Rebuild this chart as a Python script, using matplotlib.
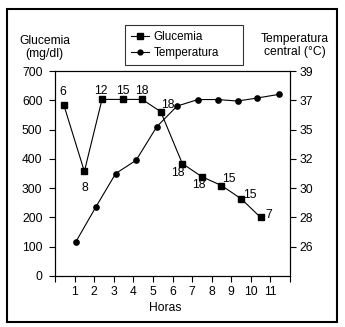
import numpy as np
import matplotlib
matplotlib.use("Agg")
import matplotlib.pyplot as plt
from matplotlib.lines import Line2D
from matplotlib.patches import Rectangle

plt.rcParams['font.family'] = ['Liberation Sans', 'DejaVu Sans']
FS = 8.7
plt.rcParams['font.size'] = FS

# ---- data ----
glu_x = [0.45, 1.5, 2.4, 3.45, 4.45, 5.4, 6.5, 7.5, 8.5, 9.5, 10.5]
glu_y = [584, 357, 603, 603, 603, 561, 384, 339, 309, 264, 200]
glu_labels = ["6", "8", "12", "15", "18", "18", "18", "18", "15", "15", "7"]

temp_x = [1.05, 2.08, 3.1, 4.14, 5.2, 6.23, 7.29, 8.3, 9.33, 10.3, 11.42]
temp_y = [26.3, 28.7, 31.0, 31.9, 35.2, 36.6, 37.05, 37.05, 36.95, 37.15, 37.4]

x_ticks = list(range(0, 13))
x_ticklabels = [""] + [str(i) for i in range(1, 12)] + [""]
left_ticks = [0, 100, 200, 300, 400, 500, 600, 700]
right_ticks = [26, 28, 30, 32, 35, 37, 39]
# right axis is non-linear: each temperature tick sits at the matching glucose tick
right_knots_t = [24, 26, 28, 30, 32, 35, 37, 39]
right_knots_p = [0, 100, 200, 300, 400, 500, 600, 700]

# label offsets in points (dx, dy)
lab_off = [(-1, 9), (0, -12), (-1, 6), (0, 6), (0, 6), (5, 5), (-3, -7), (-2, -6), (5, 5), (6, 3), (6, 2)]

W, H = 345, 327
fig = plt.figure(figsize=(W / 100, H / 100), dpi=100)
ax = fig.add_axes([55 / W, 1 - 276 / H, 235 / W, 205 / H])

ax.plot(glu_x, glu_y, color='black', lw=0.8, marker='s', ms=5, mfc='black', mec='black',
        label='Glucemia', zorder=3)
ax.set_xlim(0, 12)
ax.set_ylim(0, 700)
ax.set_xticks(x_ticks)
ax.set_xticklabels(x_ticklabels)
ax.set_yticks(left_ticks)
ax.tick_params(axis='y', direction='out', length=4, width=0.8, pad=5, labelsize=FS)
ax.tick_params(axis='x', direction='out', length=4, width=0.8, pad=3, labelsize=FS)
ax.set_xlabel('Horas', fontsize=FS, labelpad=1)
ax.xaxis.set_label_coords(110 / 235, -0.125)
for s in ax.spines.values():
    s.set_linewidth(0.8)

for x, y, t, (dx, dy) in zip(glu_x, glu_y, glu_labels, lab_off):
    ax.annotate(t, (x, y), xytext=(dx, dy), textcoords='offset points',
                ha='center', va='center', fontsize=FS)

ax2 = ax.twinx()
fwd = lambda t: np.interp(t, right_knots_t, right_knots_p)
inv = lambda p: np.interp(p, right_knots_p, right_knots_t)
ax2.set_yscale('function', functions=(fwd, inv))
ax2.plot(temp_x, temp_y, color='black', lw=0.8, marker='o', ms=3.8, mfc='black', mec='black',
         label='Temperatura', zorder=3)
ax2.set_ylim(24, 39)
ax2.set_yticks(right_ticks)
ax2.set_yticklabels([str(v) for v in right_ticks])
ax2.yaxis.set_minor_locator(matplotlib.ticker.NullLocator())
ax2.tick_params(axis='y', direction='out', length=4, width=0.8, pad=3, labelsize=FS)
for s in ax2.spines.values():
    s.set_linewidth(0.8)

fig.text(44.7 / W, 1 - 47.5 / H, 'Glucemia\n(mg/dl)', ha='center', va='center',
         fontsize=FS, linespacing=1.15)
fig.text(294.5 / W, 1 - 45.5 / H, 'Temperatura\ncentral (°C)', ha='center', va='center',
         fontsize=FS, linespacing=1.15)

handles = [Line2D([], [], color='black', lw=0.8, marker='s', ms=4),
           Line2D([], [], color='black', lw=0.8, marker='o', ms=3.5)]
leg = fig.legend(handles, ['Glucemia', 'Temperatura'], loc='upper left',
                 bbox_to_anchor=(125 / W, 1 - 65 / H, 118 / W, 40 / H), mode='expand',
                 borderaxespad=0,
                 frameon=True, fancybox=False, edgecolor='black', fontsize=8.4,
                 handlelength=1.5, handletextpad=0.4, borderpad=0.55, labelspacing=0.3)
leg.get_frame().set_linewidth(0.8)

fig.patches.append(Rectangle((6.7 / W, 1 - 322 / H), 330 / W, 312.7 / H,
                             transform=fig.transFigure, fill=False,
                             edgecolor='black', lw=1.5))

fig.savefig('out.png', dpi=100)
